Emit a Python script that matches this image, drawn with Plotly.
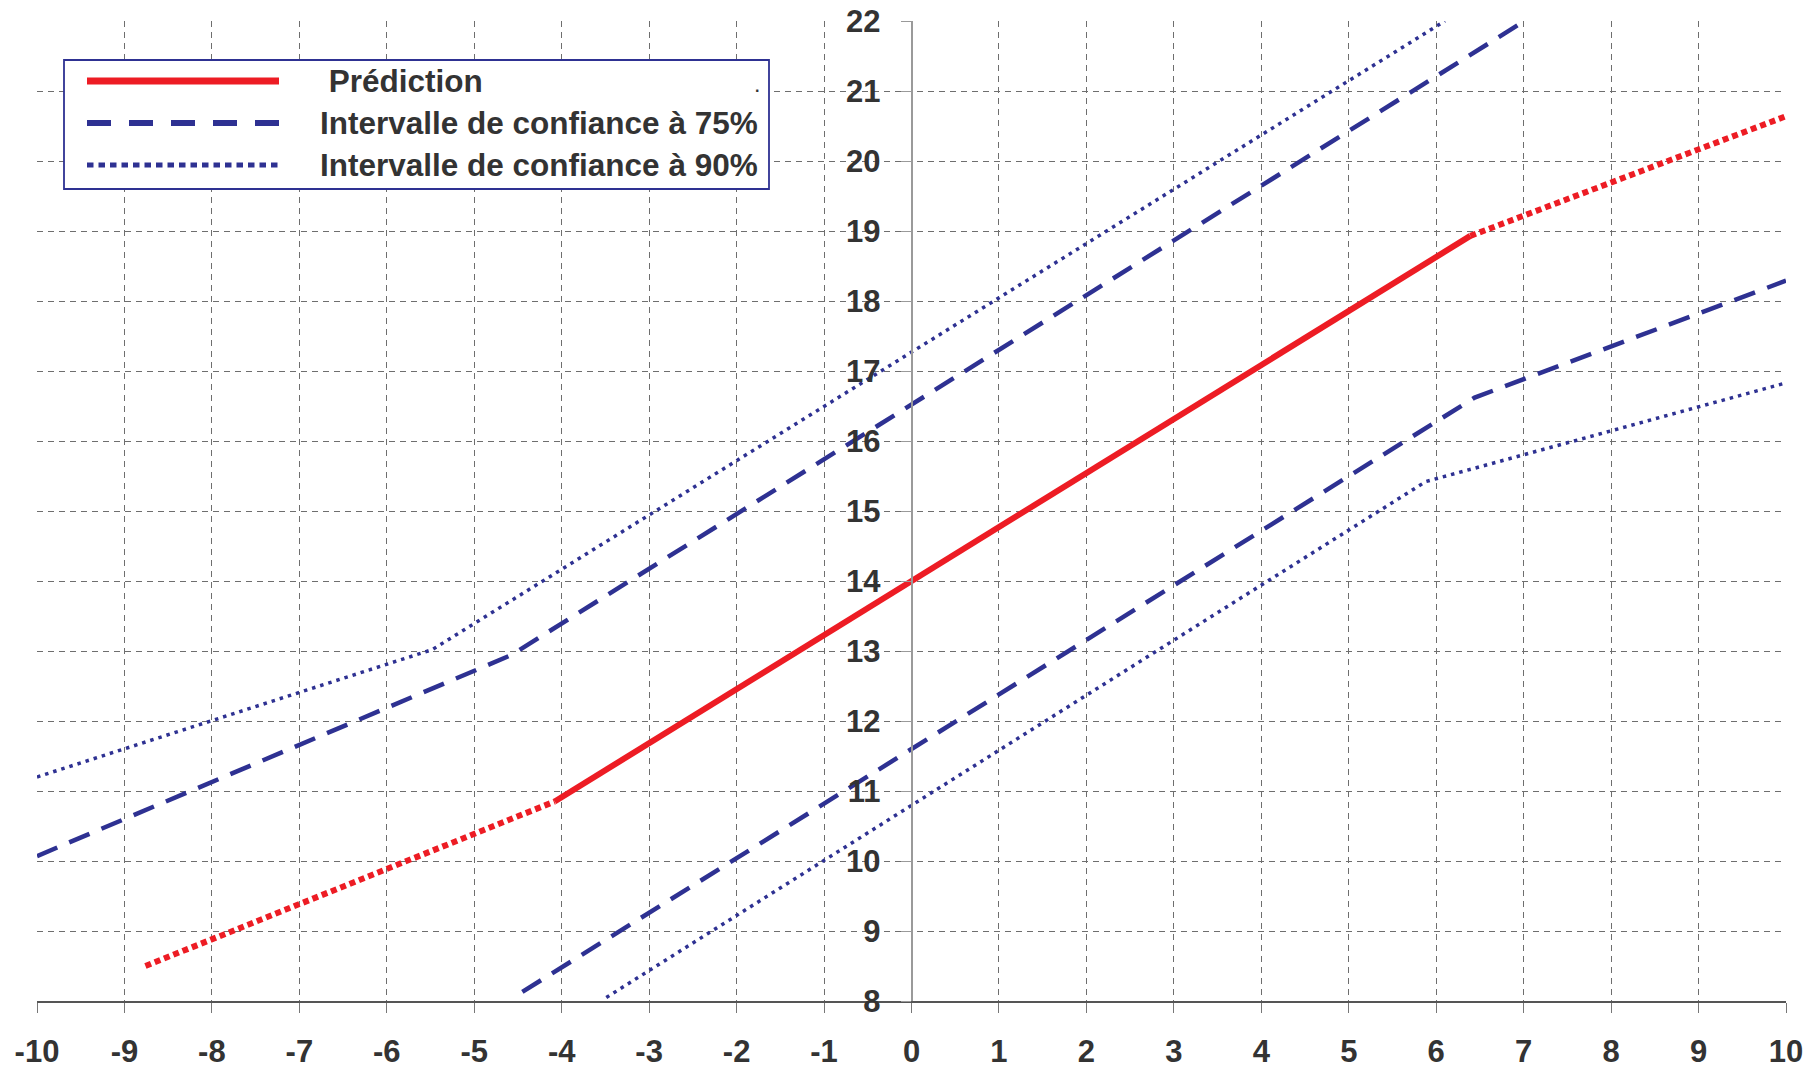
import plotly.graph_objects as go

# ---------------- data ----------------
pred_solid_x = [-4.08, 6.39]
pred_solid_y = [10.85, 18.93]
pred_left_x = [-8.76, -4.08]
pred_left_y = [8.50, 10.85]
pred_right_x = [6.39, 10.0]
pred_right_y = [18.93, 20.64]

ci75_upper_x = [-10.0, -4.58, 7.01]
ci75_upper_y = [10.07, 12.94, 22.0]
ci75_lower_x = [-4.45, 6.44, 10.0]
ci75_lower_y = [8.13, 16.62, 18.29]

ci90_upper_x = [-10.0, -5.48, 6.10]
ci90_upper_y = [11.20, 13.02, 22.0]
ci90_lower_x = [-3.49, 5.88, 10.0]
ci90_lower_y = [8.05, 15.42, 16.83]

x_tick_vals = list(range(-10, 11))
x_tick_labels = ["-10", "-9", "-8", "-7", "-6", "-5", "-4", "-3", "-2", "-1",
                 "0", "1", "2", "3", "4", "5", "6", "7", "8", "9", "10"]
y_tick_vals = list(range(8, 23))
y_tick_labels = [str(v) for v in y_tick_vals]

legend_labels = [" Prédiction", "Intervalle de confiance à 75%", "Intervalle de confiance à 90%"]

# ---------------- styles ----------------
RED = "#ED1C24"
NAVY = "#2E3192"
TXT = "#333333"
FONT = "Liberation Sans, Arial, Helvetica, sans-serif"

W, H = 1819, 1069
ML, MR, MT, MB = 37, 33, 21, 68
PW, PH = W - ML - MR, H - MT - MB

fig = go.Figure()

def add(x, y, color, width, dash):
    fig.add_trace(go.Scatter(x=x, y=y, mode="lines", showlegend=False,
                             hoverinfo="skip",
                             line=dict(color=color, width=width, dash=dash)))

add(ci90_upper_x, ci90_upper_y, NAVY, 3.5, "3.5px,5px")
add(ci90_lower_x, ci90_lower_y, NAVY, 3.5, "3.5px,5px")
add(ci75_upper_x, ci75_upper_y, NAVY, 4.5, "22px,13px")
add(ci75_lower_x, ci75_lower_y, NAVY, 4.5, "22px,13px")
add(pred_left_x, pred_left_y, RED, 6, "6px,4px")
add(pred_right_x, pred_right_y, RED, 6, "6px,4px")
add(pred_solid_x, pred_solid_y, RED, 6, "solid")

# ---------------- manual legend (paper coords) ----------------
def px_x(p):
    return (p - ML) / PW

def px_y(p):
    return 1 - (p - MT) / PH

shapes = [dict(type="rect", xref="paper", yref="paper",
               x0=px_x(64), x1=px_x(769), y0=px_y(189), y1=px_y(60),
               line=dict(color=NAVY, width=1.8), fillcolor="white", layer="above")]
rows_y = [81, 123, 165]
sample_styles = [(RED, 7, "solid"), (NAVY, 6, "24px,18px"), (NAVY, 5, "6.5px,5px")]
for ry, (c, w, d) in zip(rows_y, sample_styles):
    shapes.append(dict(type="line", xref="paper", yref="paper",
                       x0=px_x(87), x1=px_x(279), y0=px_y(ry), y1=px_y(ry),
                       line=dict(color=c, width=w, dash=d), layer="above"))

annotations = []
text_x = [318, 318, 318]
for ry, tx, lab in zip(rows_y, text_x, legend_labels):
    annotations.append(dict(xref="paper", yref="paper", x=px_x(tx), y=px_y(ry),
                            xanchor="left", yanchor="middle", text=lab, showarrow=False,
                            font=dict(family=FONT, size=31.5, color=TXT, weight="bold")))
annotations.append(dict(xref="paper", yref="paper", x=px_x(757), y=px_y(86),
                        xanchor="center", yanchor="middle", text=".", showarrow=False,
                        font=dict(family=FONT, size=16, color=TXT, weight="bold")))

grid_common = dict(gridcolor="#6e6e6e", gridwidth=1, griddash="6px,5px",
                   zeroline=False, automargin=False)

fig.update_layout(
    width=W, height=H,
    margin=dict(l=ML, r=MR, t=MT, b=MB, pad=0, autoexpand=False),
    paper_bgcolor="white", plot_bgcolor="white",
    showlegend=False,
    shapes=shapes, annotations=annotations,
    xaxis=dict(range=[-10, 10], tickvals=x_tick_vals, ticktext=x_tick_labels,
               showline=True, linecolor="#555555", linewidth=2,
               ticks="outside", ticklen=10, tickcolor="#777777", tickwidth=1,
               ticklabelstandoff=12,
               tickfont=dict(family=FONT, size=31, color=TXT, weight="bold"),
               **grid_common),
    yaxis=dict(range=[8, 22], tickvals=y_tick_vals, ticktext=y_tick_labels,
               anchor="free", position=0.5,
               showline=True, linecolor="#9a9a9a", linewidth=1.5,
               ticks="outside", ticklen=10, tickcolor="#9a9a9a", tickwidth=1,
               ticklabelstandoff=14,
               tickfont=dict(family=FONT, size=31, color=TXT, weight="bold"),
               **grid_common),
)

fig.write_html("out.html", config={"displayModeBar": False},
               post_script="document.body.style.margin='0';")
